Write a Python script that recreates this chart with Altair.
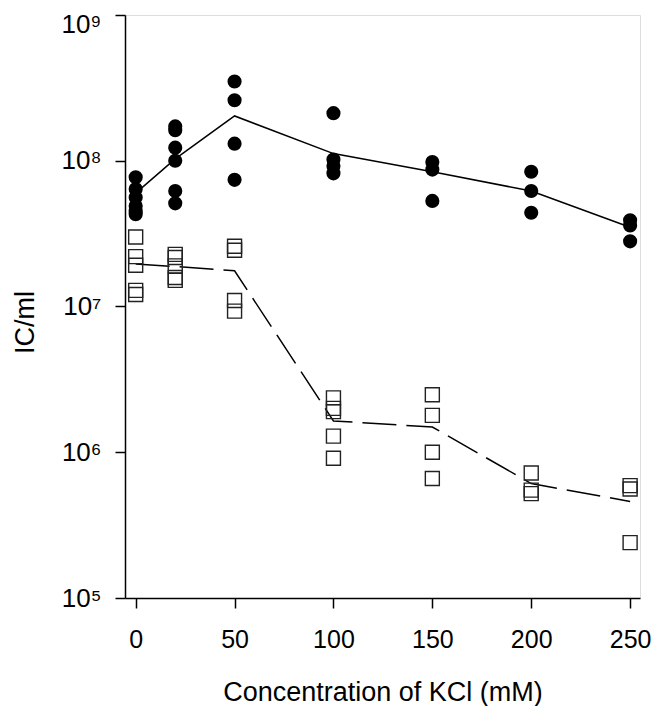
import altair as alt
import pandas as pd

# KCl concentration (mM) for each measured point
circle_x = [0, 0, 0, 0, 0, 0,
            20, 20, 20, 20, 20, 20,
            50, 50, 50, 50,
            100, 100, 100, 100,
            150, 150, 150,
            200, 200, 200,
            250, 250, 250]
circle_y = [7.7e7, 6.4e7, 5.6e7, 4.9e7, 4.5e7, 4.3e7,
            1.72e8, 1.62e8, 1.23e8, 1.0e8, 6.2e7, 5.1e7,
            3.5e8, 2.6e8, 1.31e8, 7.4e7,
            2.12e8, 1.02e8, 9.2e7, 8.2e7,
            9.8e7, 8.7e7, 5.3e7,
            8.4e7, 6.2e7, 4.4e7,
            3.9e7, 3.6e7, 2.8e7]

square_x = [0, 0, 0, 0, 0,
            20, 20, 20, 20, 20,
            50, 50, 50, 50,
            100, 100, 100, 100, 100,
            150, 150, 150, 150,
            200, 200, 200,
            250, 250, 250]
square_y = [3.0e7, 2.2e7, 1.92e7, 1.29e7, 1.21e7,
            2.28e7, 2.17e7, 1.9e7, 1.58e7, 1.51e7,
            2.59e7, 2.43e7, 1.1e7, 9.3e6,
            2.36e6, 2.0e6, 1.9e6, 1.29e6, 9.1e5,
            2.48e6, 1.79e6, 1.0e6, 6.6e5,
            7.2e5, 5.5e5, 5.2e5,
            5.9e5, 5.6e5, 2.4e5]

mean_x = [0, 20, 50, 100, 150, 200, 250]
mean_filled = [6.0e7, 1.03e8, 2.03e8, 1.12e8, 8.4e7, 6.2e7, 3.5e7]
mean_open = [1.96e7, 1.88e7, 1.76e7, 1.64e6, 1.49e6, 6.1e5, 4.6e5]

x_ticks = [0, 50, 100, 150, 200, 250]
y_ticks = [1e5, 1e6, 1e7, 1e8, 1e9]

circles = pd.DataFrame({"x": circle_x, "y": circle_y})
squares = pd.DataFrame({"x": square_x, "y": square_y})
means = pd.DataFrame({"x": mean_x, "filled": mean_filled, "open": mean_open})

FONT = "Liberation Sans"

x_scale = alt.Scale(domain=[-5.4, 255], nice=False, zero=False)
y_scale = alt.Scale(type="log", domain=[1e5, 1e9], nice=False)

x_axis = alt.Axis(
    values=x_ticks, grid=False, title="Concentration of KCl (mM)",
    labelFontSize=25, titleFontSize=27, labelFont=FONT, titleFont=FONT,
    labelColor="black", titleColor="black", titleFontWeight="normal",
    tickSize=10, tickWidth=1.5, tickColor="black",
    domainColor="black", domainWidth=1.5, labelPadding=19,
    titleBaseline="alphabetic", titleY=102, labelFlush=False,
)
y_axis = alt.Axis(
    values=y_ticks, grid=False, title="IC/ml",
    labelExpr="datum.value > 5e8 ? '10⁹' : datum.value > 5e7 ? '10⁸' : datum.value > 5e6 ? '10⁷' : datum.value > 5e5 ? '10⁶' : '10⁵'",
    labelFontSize=26, titleFontSize=27, labelFont=FONT, titleFont=FONT,
    labelColor="black", titleColor="black", titleFontWeight="normal",
    tickSize=10, tickWidth=1.5, tickColor="black",
    domainColor="black", domainWidth=1.5, labelPadding=14,
    labelOffset=alt.condition("datum.value > 5e8", alt.value(9), alt.value(0)),
    titleAngle=-90, titleBaseline="alphabetic", titleX=-92, titleY=307,
    labelFlush=False,
)

base_x = alt.X("x:Q", scale=x_scale, axis=x_axis)

line_filled = alt.Chart(means).mark_line(color="black", strokeWidth=1.5).encode(
    x=base_x, y=alt.Y("filled:Q", scale=y_scale, axis=y_axis)
)
line_open = alt.Chart(means).mark_line(color="black", strokeWidth=1.5, strokeDash=[34, 10]).encode(
    x=alt.X("x:Q", scale=x_scale), y=alt.Y("open:Q", scale=y_scale)
)
pts_filled = alt.Chart(circles).mark_point(
    shape="circle", filled=True, color="black", size=200, opacity=1, strokeWidth=0
).encode(x=alt.X("x:Q", scale=x_scale), y=alt.Y("y:Q", scale=y_scale))
pts_open = alt.Chart(squares).mark_point(
    shape="square", filled=False, color="#222222", size=196, opacity=1, strokeWidth=1.4
).encode(x=alt.X("x:Q", scale=x_scale), y=alt.Y("y:Q", scale=y_scale))

chart = alt.layer(line_filled, line_open, pts_filled, pts_open).properties(
    width=515, height=583,
    autosize=alt.AutoSizeParams(type="none"),
    padding={"left": 117, "top": 7, "right": 11, "bottom": 108},
).configure_view(stroke="#555555", strokeWidth=1.5).configure(background="white")

chart.save("out.html", embed_options={"renderer": "svg", "actions": False})
